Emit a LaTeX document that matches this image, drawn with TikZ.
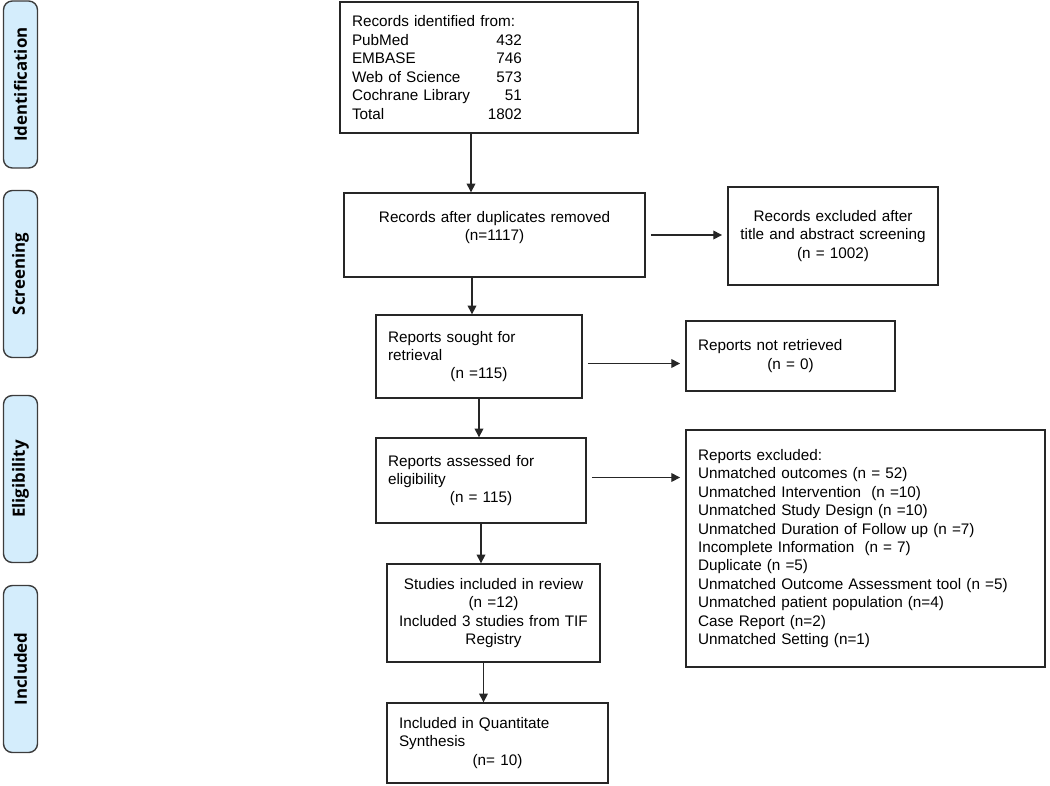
\documentclass[tikz,border=0pt]{standalone}
\usepackage{fontspec}
\setmainfont{Liberation Sans}
\newfontfamily\phasefont{Open Sans}
\usetikzlibrary{arrows.meta}

\definecolor{phasefill}{RGB}{212,237,252}
\definecolor{phaseline}{RGB}{60,60,60}

\tikzstyle{b} = [rectangle, draw=black!85, line width=0.8pt, inner xsep=0.24cm, inner ysep=0pt, font=\fontsize{8.7pt}{10.5pt}\selectfont]
\tikzstyle{p} = [rectangle, rounded corners=5pt, draw=phaseline, fill=phasefill, line width=0.8pt, rotate=90, minimum width=3.34cm, minimum height=0.68cm, inner sep=0pt, font=\phasefont\bfseries\fontsize{9.6pt}{11pt}\selectfont]

\newcommand{\rec}[2]{\makebox[2.6cm][l]{#1}\makebox[0.8cm][r]{#2}}

\begin{document}
\begin{tikzpicture}[x=0.02cm,y=-0.02cm,semithick]
\useasboundingbox (0,0) rectangle (1050,785);

% phases
\node[p] (Id) at (20.5,84.5) {Identification};
\node[p] (Sc) at (20.5,274) {Screening};
\node[p] (El) at (20.5,479) {Eligibility};
\node[p] (In) at (20.5,669) {Included};

% main column
\node[b, text width=5.48cm, minimum height=2.62cm, align=left] (R) at (489,67.5)
    {Records identified from:\\ \rec{PubMed}{432}\\ \rec{EMBASE}{746}\\ \rec{Web of Science}{573}\\ \rec{Cochrane Library}{51}\\ \rec{Total}{1802}};
\node[b, text width=5.54cm, minimum height=1.68cm, align=center] (D) at (494.5,235)
    {Records after duplicates removed\\ (n=1117)\\ \mbox{}};
\node[b, text width=3.64cm, minimum height=1.66cm, align=left] (S) at (479,356.5)
    {Reports sought for\\ retrieval\\ \makebox[\linewidth]{(n =115)}};
\node[b, text width=3.72cm, minimum height=1.7cm, align=left] (A) at (481,480.5)
    {Reports assessed for\\ eligibility\\ \makebox[\linewidth]{(n = 115)}};
\node[b, text width=3.78cm, minimum height=1.96cm, align=center] (I) at (493.5,613)
    {Studies included in review\\ (n =12)\\ Included 3 studies from TIF\\ Registry};
\node[b, text width=3.94cm, minimum height=1.6cm, align=left] (Q) at (497.5,743)
    {Included in Quantitate\\ Synthesis\\ \makebox[\linewidth]{(n= 10)}};

% side boxes
\node[b, text width=3.72cm, minimum height=1.96cm, align=center] (E) at (833,236)
    {Records excluded after\\ title and abstract screening\\ (n = 1002)};
\node[b, text width=3.7cm, minimum height=1.4cm, align=left] (N) at (790.5,356)
    {Reports not retrieved\\ \makebox[\linewidth]{(n = 0)}};
\node[b, text width=6.7cm, minimum height=4.74cm, align=left] (X) at (865.5,548.5)
    {Reports excluded:\\
     Unmatched outcomes (n = 52)\\
     Unmatched Intervention \ (n =10)\\
     Unmatched Study Design (n =10)\\
     Unmatched Duration of Follow up (n =7)\\
     Incomplete Information \ (n = 7)\\
     Duplicate (n =5)\\
     Unmatched Outcome Assessment tool (n =5)\\
     Unmatched patient population (n=4)\\
     Case Report (n=2)\\
     Unmatched Setting (n=1)};

\path[-{Triangle[width=5pt,length=5pt]}, line width=0.8pt, color=black!85]
    ([xshift=-0.36cm]R.south) edge ([xshift=-0.36cm]R.south |- D.north)
    ([xshift=-0.45cm]D.south) edge ([xshift=-0.45cm]D.south |- S.north)
    (S.south) edge (S.south |- A.north)
    (A.south) edge (A.south |- I.north)
    ([xshift=-0.2cm]I.south) edge ([xshift=-0.2cm]I.south |- Q.north)
    ;
\path[-{Triangle[width=5pt,length=5pt]}, line width=0.8pt, color=black!85, shorten <=3pt, shorten >=3pt]
    (D.east) edge (D.east -| E.west)
    ([yshift=-0.14cm]S.east) edge ([yshift=-0.14cm]S.east -| N.west)
    ([yshift=0.06cm]A.east) edge ([yshift=0.06cm]A.east -| X.west)
    ;

\end{tikzpicture}
\end{document}
